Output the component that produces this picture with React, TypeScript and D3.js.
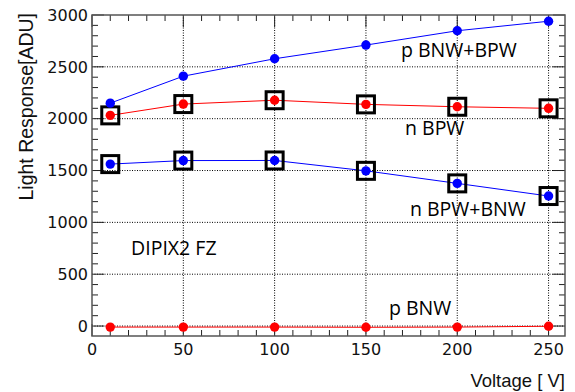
import { useEffect, useRef } from 'react'
import * as d3 from 'd3'

// bias voltage [V]
const VOLTAGES = [10, 50, 100, 150, 200, 250]

// light response [ADU]
const P_BNW_BPW = [2150, 2410, 2578, 2710, 2848, 2940]
const N_BPW = [2032, 2141, 2178, 2138, 2115, 2100]
const N_BPW_BNW = [1562, 1596, 1597, 1497, 1376, 1254]
const P_BNW = [-10, -10, -10, -12, -10, -2]

const X_TICKS = [0, 50, 100, 150, 200, 250]
const Y_TICKS = [0, 500, 1000, 1500, 2000, 2500, 3000]

// annotation anchors, in data units
const LABELS = [
  { text: 'p BNW+BPW', v: 169.2, adu: 2595 },
  { text: 'n BPW', v: 171.4, adu: 1843 },
  { text: 'n BPW+BNW', v: 174.1, adu: 1061 },
  { text: 'DIPIX2 FZ', v: 21.4, adu: 685 },
  { text: 'p BNW', v: 162.6, adu: 107 },
]

const SERIES = [
  { values: P_BNW_BPW, color: '#0000ff', boxed: false },
  { values: N_BPW, color: '#ff0000', boxed: true },
  { values: N_BPW_BNW, color: '#0000ff', boxed: true },
  { values: P_BNW, color: '#ff0000', boxed: false },
]

const W = 575
const H = 392

export default function App() {
  const svgRef = useRef<SVGSVGElement | null>(null)

  useEffect(() => {
    if (!svgRef.current) return
    const svg = d3.select(svgRef.current)
    svg.selectAll('*').remove()

    const left = 92, right = 565, top = 15, bottom = 336
    const x = d3.scaleLinear().domain([0, 259]).range([left, right])
    const y = d3.scaleLinear().domain([-96, 3000]).range([bottom, top])

    const ink = '#222'

    // dotted grid
    const grid = svg.append('g').attr('stroke', '#000').attr('stroke-width', 1)
      .attr('stroke-dasharray', '1,1.5')
    grid.selectAll('.gx').data(X_TICKS.filter(d => d > 0)).enter().append('line')
      .attr('x1', d => x(d)).attr('x2', d => x(d)).attr('y1', top).attr('y2', bottom)
    grid.selectAll('.gy').data(Y_TICKS.filter(d => d < 3000)).enter().append('line')
      .attr('y1', d => y(d)).attr('y2', d => y(d)).attr('x1', left).attr('x2', right)

    // ticks on all four sides, pointing inward
    const xMinor = d3.range(0, 260, 10)
    const yMinor = d3.range(0, 3001, 100)
    const tk = svg.append('g').attr('stroke', ink).attr('stroke-width', 1)
    const xLen = (d: number) => (d % 50 === 0 ? 12 : 6)
    const yLen = (d: number) => (d % 500 === 0 ? 12 : 6)
    tk.selectAll('.tb').data(xMinor).enter().append('line')
      .attr('x1', d => x(d)).attr('x2', d => x(d))
      .attr('y1', bottom).attr('y2', d => bottom - xLen(d))
    tk.selectAll('.tt').data(xMinor).enter().append('line')
      .attr('x1', d => x(d)).attr('x2', d => x(d))
      .attr('y1', top).attr('y2', d => top + xLen(d))
    tk.selectAll('.tl').data(yMinor).enter().append('line')
      .attr('y1', d => y(d)).attr('y2', d => y(d))
      .attr('x1', left).attr('x2', d => left + yLen(d))
    tk.selectAll('.tr').data(yMinor).enter().append('line')
      .attr('y1', d => y(d)).attr('y2', d => y(d))
      .attr('x1', right).attr('x2', d => right - yLen(d))

    // frame
    svg.append('rect')
      .attr('x', left).attr('y', top)
      .attr('width', right - left).attr('height', bottom - top)
      .attr('fill', 'none').attr('stroke', '#555').attr('stroke-width', 1.5)

    // tick labels
    svg.append('g').selectAll('text').data(X_TICKS).enter().append('text')
      .attr('x', d => x(d)).attr('y', 355)
      .attr('text-anchor', 'middle')
      .attr('font-family', 'DejaVu Sans').attr('font-size', 16).attr('fill', '#111')
      .text(d => d)
    svg.append('g').selectAll('text').data(Y_TICKS).enter().append('text')
      .attr('x', 88).attr('y', d => y(d)).attr('dy', '0.36em')
      .attr('text-anchor', 'end')
      .attr('font-family', 'DejaVu Sans').attr('font-size', 16).attr('fill', '#111')
      .text(d => d)

    // axis titles
    svg.append('text')
      .attr('transform', 'translate(33,13) rotate(-90)')
      .attr('text-anchor', 'end')
      .attr('font-family', 'Liberation Sans').attr('font-size', 19.5).attr('fill', '#111')
      .text('Light Response[ADU]')
    svg.append('text')
      .attr('x', right).attr('y', 387)
      .attr('text-anchor', 'end')
      .attr('font-family', 'Liberation Sans').attr('font-size', 18.5).attr('fill', '#111')
      .text('Voltage [ V]')

    const line = d3.line<number>().x((_, i) => x(VOLTAGES[i])).y(d => y(d))

    SERIES.forEach(s => {
      svg.append('path').datum(s.values)
        .attr('d', line).attr('fill', 'none')
        .attr('stroke', s.color).attr('stroke-width', 1)
    })

    SERIES.filter(s => s.boxed).forEach(s => {
      svg.append('g').selectAll('rect').data(s.values).enter().append('rect')
        .attr('x', (_, i) => x(VOLTAGES[i]) - 8.5)
        .attr('y', d => y(d) - 8.5)
        .attr('width', 17).attr('height', 17)
        .attr('fill', 'none').attr('stroke', '#000').attr('stroke-width', 3)
    })

    SERIES.forEach(s => {
      svg.append('g').selectAll('circle').data(s.values).enter().append('circle')
        .attr('cx', (_, i) => x(VOLTAGES[i])).attr('cy', d => y(d))
        .attr('r', 4.7).attr('fill', s.color)
    })

    svg.append('g').selectAll('text').data(LABELS).enter().append('text')
      .attr('x', d => x(d.v)).attr('y', d => y(d.adu))
      .attr('font-family', 'Open Sans').attr('font-size', 19.5).attr('fill', '#000')
      .text(d => d.text)
  }, [])

  return (
    <svg
      ref={svgRef}
      width={W}
      height={H}
      style={{ position: 'fixed', left: 0, top: 0, background: '#fff', display: 'block' }}
    />
  )
}
